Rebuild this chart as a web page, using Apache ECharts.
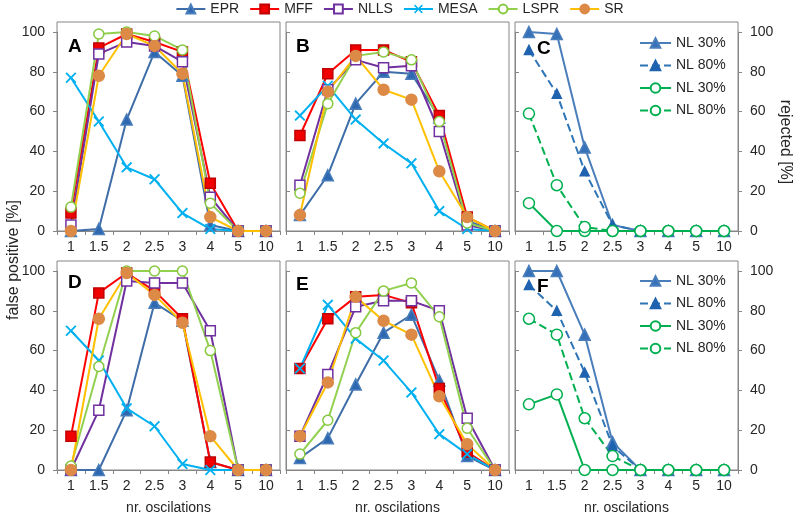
<!DOCTYPE html>
<html><head><meta charset="utf-8">
<script src="https://cdn.jsdelivr.net/npm/echarts@6/dist/echarts.min.js"></script>
<style>html,body{margin:0;padding:0;background:#fff}#c{width:799px;height:521px}</style>
</head><body><div id="c"></div>
<script>
// ---------- data ----------
const categories = ['1', '1.5', '2', '2.5', '3', '4', '5', '10'];
const methods = ['EPR', 'MFF', 'NLLS', 'MESA', 'LSPR', 'SR'];
const nlNames = ['NL 30%', 'NL 80%', 'NL 30% ', 'NL 80% '];
const panelLetters = ['A', 'B', 'C', 'D', 'E', 'F'];

// Panel A
const eprA  = [0, 1, 56, 90, 78, 3, 0, 0];
const mffA  = [9, 92, 99, 95, 90, 24, 0, 0];
const nllsA = [3, 89, 95, 93, 85, 17, 0, 0];
const mesaA = [77, 55, 32, 26, 9, 1, 0, 0];
const lsprA = [12, 99, 100, 98, 91, 14, 0, 0];
const srA   = [0, 78, 99, 93, 79, 7, 0, 0];
// Panel B
const eprB  = [8, 28, 64, 80, 79, 57, 5, 0];
const mffB  = [48, 79, 91, 91, 85, 58, 7, 0];
const nllsB = [23, 71, 86, 82, 83, 50, 3, 0];
const mesaB = [58, 73, 56, 44, 34, 10, 1, 0];
const lsprB = [19, 64, 88, 90, 86, 55, 4, 0];
const srB   = [8, 70, 88, 71, 66, 30, 7, 0];
// Panel C
const blue30C  = [100, 99, 42, 3, 0, 0, 0, 0];
const blue80C  = [91, 69, 30, 3, 0, 0, 0, 0];
const green30C = [14, 0, 0, 0, 0, 0, 0, 0];
const green80C = [59, 23, 2, 0, 0, 0, 0, 0];
// Panel D
const eprD  = [0, 0, 30, 84, 75, 4, 0, 0];
const mffD  = [17, 89, 99, 90, 76, 4, 0, 0];
const nllsD = [0, 30, 95, 94, 94, 70, 0, 0];
const mesaD = [70, 55, 31, 22, 3, 0, 0, 0];
const lsprD = [2, 52, 100, 100, 100, 60, 0, 0];
const srD   = [0, 76, 99, 88, 74, 17, 0, 0];
// Panel E
const eprE  = [6, 16, 43, 69, 78, 45, 7, 0];
const mffE  = [51, 76, 87, 88, 84, 41, 9, 0];
const nllsE = [17, 48, 82, 85, 85, 80, 26, 0];
const mesaE = [51, 83, 66, 55, 39, 18, 8, 0];
const lsprE = [8, 25, 69, 90, 94, 77, 21, 0];
const srE   = [17, 44, 87, 75, 68, 37, 13, 0];
// Panel F
const blue30F  = [100, 100, 68, 14, 0, 0, 0, 0];
const blue80F  = [93, 80, 49, 12, 0, 0, 0, 0];
const green30F = [33, 38, 0, 0, 0, 0, 0, 0];
const green80F = [76, 68, 26, 7, 0, 0, 0, 0];

// ---------- styling ----------
const FONT = "'Liberation Sans', Arial, sans-serif";
const AX = '#868686';
const TXT = '#262626';
const crossPath = 'path://M0,1.2 L1.2,0 L5,3.8 L8.8,0 L10,1.2 L6.2,5 L10,8.8 L8.8,10 L5,6.2 L1.2,10 L0,8.8 L3.8,5 Z';

const methodStyle = {
  EPR:  {line: '#3F6DA8', symbol: 'triangle', size: 11, fill: '#2E68B0', border: '#4A7EBB'},
  MFF:  {line: '#FF0000', symbol: 'rect', size: 10, fill: '#F00000', border: '#C00000'},
  NLLS: {line: '#7030A0', symbol: 'rect', size: 10, fill: '#ffffff', border: '#7030A0'},
  MESA: {line: '#00B0F0', symbol: crossPath, size: 11, fill: '#00B0F0', border: '#00B0F0', bw: 0},
  LSPR: {line: '#92D050', symbol: 'circle', size: 10, fill: '#ffffff', border: '#86C83E'},
  SR:   {line: '#FFC000', symbol: 'circle', size: 11, fill: '#DC8A46', border: '#DC8A46'}
};
const nlStyle = [
  {line: '#4A7EBB', type: 'solid',  symbol: 'triangle', size: 11, fill: '#3570B8', border: '#4A7EBB'},
  {line: '#2E75B6', type: 'dashed', symbol: 'triangle', size: 9,  fill: '#1F63B0', border: '#1F63B0'},
  {line: '#00B050', type: 'solid',  symbol: 'circle', size: 11, fill: '#ffffff', border: '#00B050'},
  {line: '#00B050', type: 'dashed', symbol: 'circle', size: 11, fill: '#ffffff', border: '#00B050'}
];

const lefts = [57, 286, 515];
const tops = [32, 271];
const W = 223, H = 199;

const grids = [], xAxes = [], yAxes = [], series = [], titles = [], graphics = [];
for (let i = 0; i < 6; i++) {
  const row = Math.floor(i / 3), col = i % 3;
  grids.push({left: lefts[col], top: tops[row], width: W, height: H});
  xAxes.push({
    type: 'category', gridIndex: i, data: categories, boundaryGap: true,
    axisLine: {lineStyle: {color: AX}},
    axisTick: {show: true, length: 4, lineStyle: {color: AX}},
    axisLabel: {fontSize: 14, color: TXT, margin: 9, fontFamily: FONT, interval: 0},
    name: row === 1 ? 'nr. oscilations' : '', nameLocation: 'middle', nameGap: 31,
    nameTextStyle: {fontSize: 14, color: TXT, fontFamily: FONT}
  });
  yAxes.push({
    type: 'value', gridIndex: i, min: 0, max: 100, interval: 20,
    axisLine: {show: true, lineStyle: {color: AX}},
    axisTick: {show: true, inside: col !== 0, length: 4, lineStyle: {color: AX}},
    axisLabel: {show: col === 0, fontSize: 14, color: TXT, margin: 12, fontFamily: FONT},
    splitLine: {show: false}
  });
  const t = tops[row] - 10;
  graphics.push({type: 'rect', z: -1, shape: {x: lefts[col], y: t, width: W, height: H + 10},
    style: {fill: 'none', stroke: AX, lineWidth: 1}});
}
// right axes for C and F
[2, 5].forEach(g => {
  yAxes.push({
    type: 'value', gridIndex: g, position: 'right', min: 0, max: 100, interval: 20,
    axisLine: {show: true, lineStyle: {color: AX}},
    axisTick: {show: true, inside: false, length: 4, lineStyle: {color: AX}},
    axisLabel: {show: true, fontSize: 14, color: TXT, margin: 12, fontFamily: FONT},
    splitLine: {show: false}
  });
});

const methodPanels = [
  [0, [eprA, mffA, nllsA, mesaA, lsprA, srA]],
  [1, [eprB, mffB, nllsB, mesaB, lsprB, srB]],
  [3, [eprD, mffD, nllsD, mesaD, lsprD, srD]],
  [4, [eprE, mffE, nllsE, mesaE, lsprE, srE]]
];
methodPanels.forEach(([g, arrs]) => {
  arrs.forEach((d, k) => {
    const s = methodStyle[methods[k]];
    series.push({
      type: 'line', name: methods[k], xAxisIndex: g, yAxisIndex: g, data: d,
      symbol: s.symbol, symbolSize: s.size, showAllSymbol: true,
      lineStyle: {color: s.line, width: 2},
      itemStyle: {color: s.fill, borderColor: s.border, borderWidth: s.bw === undefined ? 1.5 : s.bw},
      emphasis: {disabled: true}, animation: false
    });
  });
});
const nlPanels = [
  [2, [blue30C, blue80C, green30C, green80C]],
  [5, [blue30F, blue80F, green30F, green80F]]
];
nlPanels.forEach(([g, arrs]) => {
  arrs.forEach((d, k) => {
    const s = nlStyle[k];
    series.push({
      type: 'line', name: nlNames[k], xAxisIndex: g, yAxisIndex: g, data: d,
      symbol: s.symbol, symbolSize: s.size, showAllSymbol: true,
      lineStyle: {color: s.line, width: 2, type: s.type},
      itemStyle: {color: s.fill, borderColor: s.border, borderWidth: 1.5},
      emphasis: {disabled: true}, animation: false
    });
  });
});

const letterPos = [[68, 37], [296, 37], [537, 39], [68, 273], [296, 275], [537, 277]];
panelLetters.forEach((L, i) => {
  titles.push({text: L, left: letterPos[i][0], top: letterPos[i][1], padding: 0,
    textStyle: {fontSize: 19, fontWeight: 'bold', color: '#000', fontFamily: FONT}});
});

graphics.push({type: 'text', x: 14, y: 260, rotation: Math.PI / 2,
  style: {text: 'false positive [%]', font: '16px ' + FONT, fill: TXT, textAlign: 'center', textVerticalAlign: 'middle'}});
graphics.push({type: 'text', x: 785, y: 142, rotation: -Math.PI / 2,
  style: {text: 'rejected [%]', font: '16px ' + FONT, fill: TXT, textAlign: 'center', textVerticalAlign: 'middle'}});

const legendText = {fontSize: 14, color: TXT, fontFamily: FONT};
const option = {
  animation: false,
  title: titles,
  legend: [
    {data: methods, top: 0, left: 'center', padding: [2, 5], itemWidth: 29, itemHeight: 11, itemGap: 10,
     textStyle: legendText, selectedMode: false},
    {data: nlNames, orient: 'vertical', left: 639, top: 36, padding: 0, itemWidth: 31, itemHeight: 12, itemGap: 8.5,
     textStyle: legendText, selectedMode: false},
    {data: nlNames, orient: 'vertical', left: 639, top: 274, padding: 0, itemWidth: 31, itemHeight: 12, itemGap: 8.5,
     textStyle: legendText, selectedMode: false}
  ],
  grid: grids, xAxis: xAxes, yAxis: yAxes, series: series, graphic: graphics
};
const chart = echarts.init(document.getElementById('c'), null, {renderer: 'canvas'});
chart.setOption(option);
</script></body></html>
